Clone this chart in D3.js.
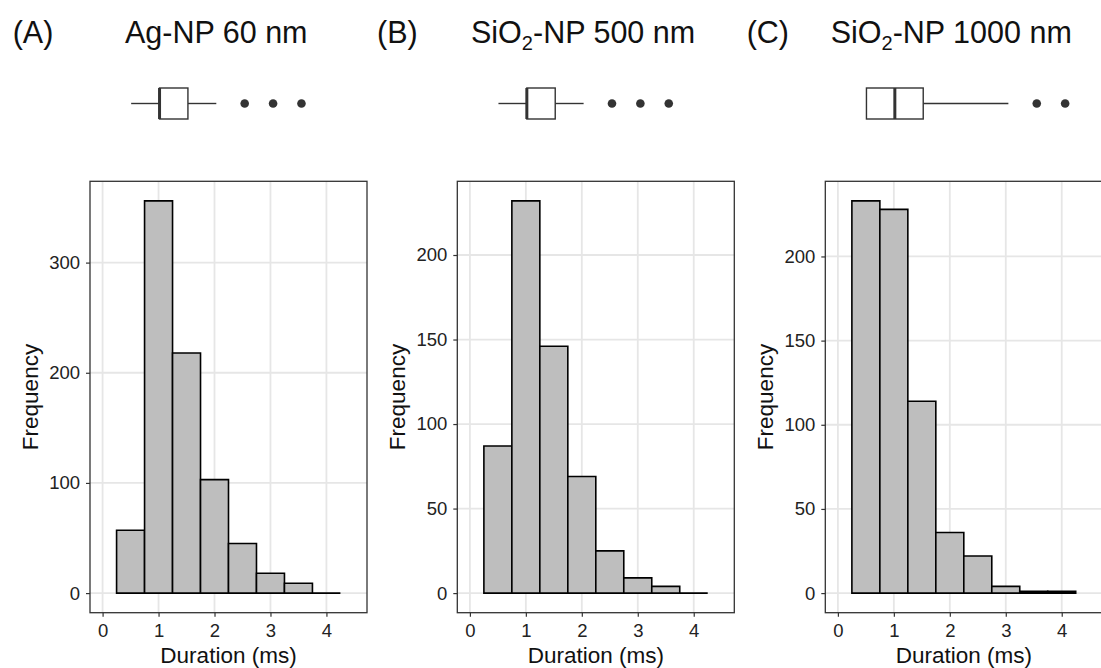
<!DOCTYPE html>
<html>
<head>
<meta charset="utf-8">
<script src="https://cdn.jsdelivr.net/npm/d3@7"></script>
<style>
    body { margin: 0; background: #fff; }
    text { font-family: "Liberation Sans", Arial, sans-serif; }
</style>
</head>
<body>
<svg id="chart" width="1101" height="668"></svg>
<script>
// histogram bins (ms), all 0.5 ms wide
const binLeft = [0.25, 0.75, 1.25, 1.75, 2.25, 2.75, 3.25, 3.75];
const binWidth = 0.5;

const countsA = [57, 356, 218, 103, 45, 18, 9, 0];
const countsB = [87, 232, 146, 69, 25, 9, 4, 0];
const countsC = [233, 228, 114, 36, 22, 4, 1, 1];

// boxplot summaries: [lower whisker, q1, median, q3, upper whisker]
const boxA = [0.5, 1.0, 1.0, 1.5, 2.0];
const boxB = [0.5, 1.0, 1.0, 1.5, 2.0];
const boxC = [0.5, 0.5, 1.0, 1.5, 3.0];
const outliersA = [2.5, 3.0, 3.5];
const outliersB = [2.5, 3.0, 3.5];
const outliersC = [3.5, 4.0];

const xTicks = [0, 1, 2, 3, 4];
const yTicksA = [0, 100, 200, 300];
const yTicksBC = [0, 50, 100, 150, 200];

const panels = [
    {tag: "(A)", name: ["Ag-NP 60 nm"], counts: countsA, box: boxA, outliers: outliersA, yTicks: yTicksA,
     left: 90, tagX: 12.7, nameX: 125},
    {tag: "(B)", name: ["SiO", "2", "-NP 500 nm"], counts: countsB, box: boxB, outliers: outliersB, yTicks: yTicksBC,
     left: 457.3, tagX: 377, nameX: 471},
    {tag: "(C)", name: ["SiO", "2", "-NP 1000 nm"], counts: countsC, box: boxC, outliers: outliersC, yTicks: yTicksBC,
     left: 825.3, tagX: 746.7, nameX: 830.7}
];

const svg = d3.select("#chart");
svg.append("rect").attr("width", 1101).attr("height", 668).attr("fill", "#fff");

const plotW = 277, plotTop = 181.3, plotBottom = 612.7;
const xLimits = [0, 4.5];

function expand(lo, hi) {
    const pad = (hi - lo) * 0.05;
    return [lo - pad, hi + pad];
}

function drawTitle(p) {
    svg.append("text")
        .attr("x", p.tagX)
        .attr("y", 43)
        .attr("font-size", "30.5px")
        .attr("fill", "#111")
        .text(p.tag);

    const t = svg.append("text")
        .attr("x", p.nameX)
        .attr("y", 43)
        .attr("font-size", "30.5px")
        .attr("fill", "#111");
    if (p.name.length === 1) {
        t.text(p.name[0]);
    } else {
        t.append("tspan").text(p.name[0]);
        t.append("tspan").attr("dy", 7).attr("font-size", "20px").text(p.name[1]);
        t.append("tspan").attr("dy", -7).text(p.name[2]);
    }
}

function drawBoxplot(p) {
    // boxplot strip sits a little wider than the histogram panel
    const bx = d3.scaleLinear().domain(expand(...xLimits)).range([p.left, p.left + plotW + 4]);
    const yTop = 88, yBot = 119, yMid = (yTop + yBot) / 2;
    const [lo, q1, med, q3, hi] = p.box;
    const g = svg.append("g").attr("stroke", "#333").attr("fill", "none");

    g.append("line").attr("x1", bx(lo)).attr("x2", bx(q1)).attr("y1", yMid).attr("y2", yMid).attr("stroke-width", 1.4);
    g.append("line").attr("x1", bx(q3)).attr("x2", bx(hi)).attr("y1", yMid).attr("y2", yMid).attr("stroke-width", 1.4);
    g.append("rect")
        .attr("x", bx(q1)).attr("y", yTop)
        .attr("width", bx(q3) - bx(q1)).attr("height", yBot - yTop)
        .attr("fill", "#fff")
        .attr("stroke-width", 1.4);
    g.append("line")
        .attr("x1", bx(med)).attr("x2", bx(med))
        .attr("y1", yTop).attr("y2", yBot)
        .attr("stroke-width", 3);

    svg.append("g").selectAll("circle")
        .data(p.outliers)
        .join("circle")
        .attr("cx", d => bx(d))
        .attr("cy", yMid)
        .attr("r", 4.3)
        .attr("fill", "#333");
}

function drawHistogram(p) {
    const x = d3.scaleLinear().domain(expand(...xLimits)).range([p.left, p.left + plotW]);
    const y = d3.scaleLinear().domain(expand(0, d3.max(p.counts))).range([plotBottom, plotTop]);
    const g = svg.append("g");

    // major grid only
    g.append("g").selectAll("line")
        .data(xTicks).join("line")
        .attr("x1", d => x(d)).attr("x2", d => x(d))
        .attr("y1", plotTop).attr("y2", plotBottom)
        .attr("stroke", "#e6e6e6").attr("stroke-width", 1.8);
    g.append("g").selectAll("line")
        .data(p.yTicks).join("line")
        .attr("x1", p.left).attr("x2", p.left + plotW)
        .attr("y1", d => y(d)).attr("y2", d => y(d))
        .attr("stroke", "#e6e6e6").attr("stroke-width", 1.8);

    // bars as paths so empty bins still show as a flat line
    g.append("g").selectAll("path")
        .data(p.counts.map((c, i) => ({x0: binLeft[i], count: c})))
        .join("path")
        .attr("d", d => `M${x(d.x0)},${y(0)}V${y(d.count)}H${x(d.x0 + binWidth)}V${y(0)}Z`)
        .attr("fill", "#bebebe")
        .attr("stroke", "#000")
        .attr("stroke-width", 1.6);

    g.append("rect")
        .attr("x", p.left).attr("y", plotTop)
        .attr("width", plotW).attr("height", plotBottom - plotTop)
        .attr("fill", "none")
        .attr("stroke", "#333")
        .attr("stroke-width", 1.3);

    const xAxis = g.append("g")
        .attr("transform", `translate(0,${plotBottom})`)
        .call(d3.axisBottom(x).tickValues(xTicks).tickFormat(d3.format("d")).tickSize(4).tickPadding(7));
    const yAxis = g.append("g")
        .attr("transform", `translate(${p.left},0)`)
        .call(d3.axisLeft(y).tickValues(p.yTicks).tickFormat(d3.format("d")).tickSize(4).tickPadding(6));

    [xAxis, yAxis].forEach(a => {
        a.select(".domain").remove();
        a.selectAll(".tick line").attr("stroke", "#333").attr("stroke-width", 1.2);
        a.selectAll(".tick text")
            .attr("fill", "#222")
            .attr("font-size", "18.5px")
            .attr("font-family", "Liberation Sans, Arial, sans-serif");
    });

    g.append("text")
        .attr("x", p.left + plotW / 2)
        .attr("y", 663)
        .attr("text-anchor", "middle")
        .attr("font-size", "22.5px")
        .attr("fill", "#111")
        .text("Duration (ms)");

    g.append("text")
        .attr("transform", `translate(${p.left - 52},${(plotTop + plotBottom) / 2}) rotate(-90)`)
        .attr("text-anchor", "middle")
        .attr("font-size", "22.5px")
        .attr("fill", "#111")
        .text("Frequency");
}

panels.forEach(p => {
    drawTitle(p);
    drawBoxplot(p);
    drawHistogram(p);
});
</script>
</body>
</html>
